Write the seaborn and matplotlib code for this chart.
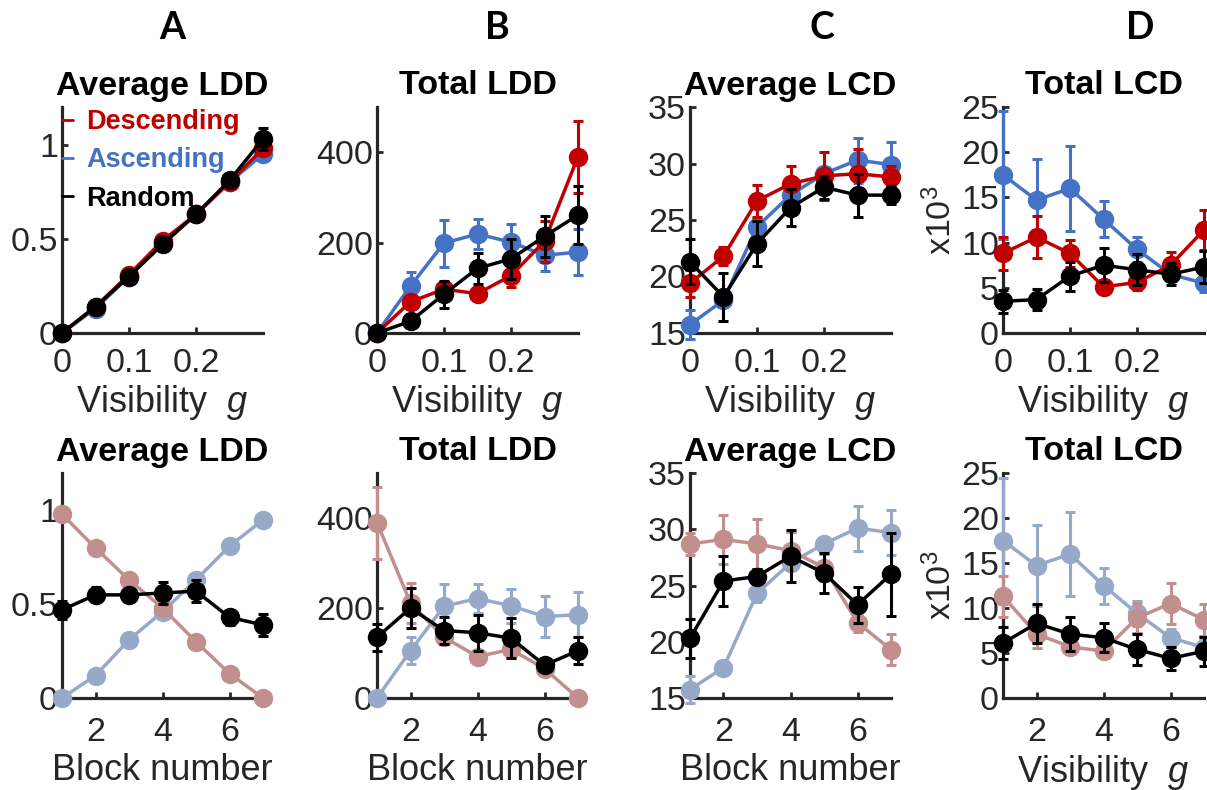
import numpy as np
import pandas as pd
import seaborn as sns
import matplotlib
matplotlib.use("Agg")
import matplotlib.pyplot as plt
from matplotlib.lines import Line2D

# ---- data ----
g_vals = [0, 0.05, 0.1, 0.15, 0.2, 0.25, 0.3]
blocks = [1, 2, 3, 4, 5, 6, 7]
groups = ["Descending", "Ascending", "Random"]

# top row: vs visibility g
avg_ldd_desc = [0, 0.14, 0.31, 0.49, 0.63, 0.80, 0.98]
avg_ldd_asc = [0, 0.13, 0.30, 0.48, 0.63, 0.80, 0.95]
avg_ldd_rand = [0, 0.14, 0.30, 0.47, 0.63, 0.81, 1.03]
avg_ldd_desc_err = [0, 0.01, 0.01, 0.01, 0.01, 0.01, 0.02]
avg_ldd_asc_err = [0, 0.01, 0.01, 0.01, 0.01, 0.01, 0.02]
avg_ldd_rand_err = [0, 0.01, 0.01, 0.01, 0.01, 0.02, 0.06]

tot_ldd_desc = [0, 69, 97, 87, 127, 203, 390]
tot_ldd_asc = [0, 104, 199, 219, 201, 172, 179]
tot_ldd_rand = [0, 26, 86, 143, 164, 214, 261]
tot_ldd_desc_err = [0, 10, 15, 15, 25, 45, 80]
tot_ldd_asc_err = [0, 30, 52, 33, 40, 34, 50]
tot_ldd_rand_err = [0, 8, 30, 35, 45, 45, 65]

avg_lcd_desc = [19.4, 21.8, 26.7, 28.2, 28.9, 29.1, 28.8]
avg_lcd_asc = [15.75, 17.9, 24.4, 27.2, 29.1, 30.3, 29.9]
avg_lcd_rand = [21.3, 18.2, 22.9, 26.1, 27.9, 27.2, 27.2]
avg_lcd_desc_err = [1.2, 0.8, 1.4, 1.6, 2.1, 2.2, 1.0]
avg_lcd_asc_err = [1.3, 0.6, 0.8, 0.8, 0.6, 2.0, 2.0]
avg_lcd_rand_err = [2.0, 2.1, 2.0, 1.6, 1.0, 1.9, 0.8]

tot_lcd_desc = [8.8, 10.6, 8.8, 5.1, 5.6, 7.5, 11.4]
tot_lcd_asc = [17.5, 14.7, 16.0, 12.6, 9.25, 6.5, 5.5]
tot_lcd_rand = [3.5, 3.7, 6.3, 7.5, 7.0, 6.5, 7.3]
tot_lcd_desc_err = [1.8, 2.3, 1.5, 0.8, 0.8, 1.5, 2.2]
tot_lcd_asc_err = [7.1, 4.5, 4.7, 2.0, 1.4, 0.8, 1.0]
tot_lcd_rand_err = [1.3, 1.2, 1.6, 1.9, 1.7, 1.2, 1.8]

# bottom row: vs block number
blk_avg_ldd_desc = [0.98, 0.80, 0.63, 0.48, 0.30, 0.13, 0]
blk_avg_ldd_asc = [0, 0.12, 0.31, 0.46, 0.63, 0.81, 0.95]
blk_avg_ldd_rand = [0.47, 0.55, 0.55, 0.56, 0.57, 0.43, 0.39]
blk_avg_ldd_desc_err = [0.02, 0.01, 0.01, 0.01, 0.01, 0.01, 0]
blk_avg_ldd_asc_err = [0, 0.01, 0.01, 0.01, 0.01, 0.01, 0.01]
blk_avg_ldd_rand_err = [0.05, 0.04, 0.03, 0.06, 0.06, 0.04, 0.06]

blk_tot_ldd_desc = [390, 211, 135, 92, 108, 65, 0]
blk_tot_ldd_asc = [0, 105, 204, 221, 205, 181, 185]
blk_tot_ldd_rand = [135, 200, 150, 145, 133, 73, 105]
blk_tot_ldd_desc_err = [80, 45, 15, 12, 20, 10, 0]
blk_tot_ldd_asc_err = [0, 30, 50, 33, 38, 45, 50]
blk_tot_ldd_rand_err = [30, 45, 30, 40, 45, 12, 30]

blk_avg_lcd_desc = [28.7, 29.1, 28.7, 28.1, 26.6, 21.7, 19.3]
blk_avg_lcd_asc = [15.75, 17.7, 24.3, 27.0, 28.7, 30.1, 29.7]
blk_avg_lcd_rand = [20.3, 25.4, 25.8, 27.6, 26.1, 23.3, 26.0]
blk_avg_lcd_desc_err = [1.0, 2.2, 2.2, 1.7, 1.2, 0.8, 1.4]
blk_avg_lcd_asc_err = [1.2, 0.5, 0.8, 0.6, 0.5, 2.0, 2.0]
blk_avg_lcd_rand_err = [1.7, 2.2, 0.7, 2.3, 1.8, 1.6, 3.7]

blk_tot_lcd_desc = [11.3, 7.1, 5.7, 5.2, 8.9, 10.5, 8.7]
blk_tot_lcd_asc = [17.5, 14.7, 16.0, 12.5, 9.4, 6.7, 5.6]
blk_tot_lcd_rand = [6.1, 8.3, 7.1, 6.7, 5.4, 4.4, 5.2]
blk_tot_lcd_desc_err = [2.3, 1.5, 0.8, 0.8, 1.7, 2.3, 1.8]
blk_tot_lcd_asc_err = [7.0, 4.5, 4.7, 2.0, 1.4, 1.0, 1.0]
blk_tot_lcd_rand_err = [1.8, 2.2, 1.9, 1.6, 1.7, 1.3, 1.6]

TOP_COLORS = {"Descending": "#C00000", "Ascending": "#4472C4", "Random": "#000000"}
BOTTOM_COLORS = {"Descending": "#C28E8E", "Ascending": "#97A9C9", "Random": "#000000"}
ZORDER = {"Ascending": 3, "Descending": 4, "Random": 5}

sns.set_style("ticks")
plt.rcParams["font.family"] = ["Liberation Sans", "DejaVu Sans"]
plt.rcParams["mathtext.fontset"] = "custom"
plt.rcParams["mathtext.it"] = "Liberation Sans:italic"
plt.rcParams["mathtext.rm"] = "Liberation Sans"

AXCOL = "#262626"
TICK_FS = 24.5
LABEL_FS = 26


def draw_panel(ax, x, vals, errs, colors, ylim, yticks, xticks, title, xlabel,
               ylabel=None, xpad=9):
    df = pd.DataFrame({
        "x": np.tile(x, 3),
        "value": np.concatenate([vals[g] for g in groups]),
        "err": np.concatenate([errs[g] for g in groups]),
        "group": np.repeat(groups, len(x)),
    })
    for g in ["Ascending", "Descending", "Random"]:
        sub = df[df["group"] == g]
        ax.errorbar(sub["x"], sub["value"], yerr=sub["err"], fmt="none",
                    ecolor=colors[g], elinewidth=2.2, capsize=3.5, capthick=2.2,
                    zorder=ZORDER[g], clip_on=False)
        sns.lineplot(data=sub, x="x", y="value", color=colors[g], marker="o",
                     markersize=14, markeredgewidth=0, linewidth=2.5,
                     zorder=ZORDER[g], clip_on=False, legend=False, ax=ax)
    ax.set_xlim(x[0], x[-1])
    ax.set_ylim(*ylim)
    ax.set_yticks(yticks)
    ax.set_xticks(xticks)
    ax.set_xticklabels([f"{t:g}" for t in xticks])
    ax.set_yticklabels([f"{t:g}" for t in yticks])
    sns.despine(ax=ax)
    for s in ["left", "bottom"]:
        ax.spines[s].set_linewidth(2.3)
        ax.spines[s].set_color(AXCOL)
        ax.spines[s].set_zorder(1)
    ax.tick_params(direction="in", length=4, width=2, colors=AXCOL,
                   labelsize=TICK_FS, labelcolor=AXCOL)
    ax.tick_params(axis="x", pad=xpad)
    ax.tick_params(axis="y", pad=3)
    ax.set_title(title, fontsize=24.5, fontweight="bold", color="black", pad=9)
    ax.set_xlabel(xlabel, fontsize=LABEL_FS, color=AXCOL, labelpad=3)
    if ylabel:
        ax.set_ylabel(ylabel, fontsize=TICK_FS, color=AXCOL, labelpad=2)
    else:
        ax.set_ylabel("")
    ax.patch.set_visible(False)


fig = plt.figure(figsize=(12.07, 7.90), dpi=100)
W, H = 1207, 790
lefts = [62, 377, 690, 1003]
aw = 201 / W
top_b, top_h = 457 / H, 226 / H
bot_b, bot_h = 92 / H, 225 / H

vis_label = "Visibility  $g$"
blk_label = "Block number"

top_specs = [
    ({"Descending": avg_ldd_desc, "Ascending": avg_ldd_asc, "Random": avg_ldd_rand},
     {"Descending": avg_ldd_desc_err, "Ascending": avg_ldd_asc_err, "Random": avg_ldd_rand_err},
     (0, 1.2), [0, 0.5, 1], "Average LDD", None),
    ({"Descending": tot_ldd_desc, "Ascending": tot_ldd_asc, "Random": tot_ldd_rand},
     {"Descending": tot_ldd_desc_err, "Ascending": tot_ldd_asc_err, "Random": tot_ldd_rand_err},
     (0, 500), [0, 200, 400], "Total LDD", None),
    ({"Descending": avg_lcd_desc, "Ascending": avg_lcd_asc, "Random": avg_lcd_rand},
     {"Descending": avg_lcd_desc_err, "Ascending": avg_lcd_asc_err, "Random": avg_lcd_rand_err},
     (15, 35), [15, 20, 25, 30, 35], "Average LCD", None),
    ({"Descending": tot_lcd_desc, "Ascending": tot_lcd_asc, "Random": tot_lcd_rand},
     {"Descending": tot_lcd_desc_err, "Ascending": tot_lcd_asc_err, "Random": tot_lcd_rand_err},
     (0, 25), [0, 5, 10, 15, 20, 25], "Total LCD", "x10$^3$"),
]
bottom_specs = [
    ({"Descending": blk_avg_ldd_desc, "Ascending": blk_avg_ldd_asc, "Random": blk_avg_ldd_rand},
     {"Descending": blk_avg_ldd_desc_err, "Ascending": blk_avg_ldd_asc_err, "Random": blk_avg_ldd_rand_err},
     (0, 1.2), [0, 0.5, 1], "Average LDD", None, blk_label),
    ({"Descending": blk_tot_ldd_desc, "Ascending": blk_tot_ldd_asc, "Random": blk_tot_ldd_rand},
     {"Descending": blk_tot_ldd_desc_err, "Ascending": blk_tot_ldd_asc_err, "Random": blk_tot_ldd_rand_err},
     (0, 500), [0, 200, 400], "Total LDD", None, blk_label),
    ({"Descending": blk_avg_lcd_desc, "Ascending": blk_avg_lcd_asc, "Random": blk_avg_lcd_rand},
     {"Descending": blk_avg_lcd_desc_err, "Ascending": blk_avg_lcd_asc_err, "Random": blk_avg_lcd_rand_err},
     (15, 35), [15, 20, 25, 30, 35], "Average LCD", None, blk_label),
    ({"Descending": blk_tot_lcd_desc, "Ascending": blk_tot_lcd_asc, "Random": blk_tot_lcd_rand},
     {"Descending": blk_tot_lcd_desc_err, "Ascending": blk_tot_lcd_asc_err, "Random": blk_tot_lcd_rand_err},
     (0, 25), [0, 5, 10, 15, 20, 25], "Total LCD", "x10$^3$", vis_label),
]

top_axes = []
for left, (vals, errs, ylim, yt, title, ylab) in zip(lefts, top_specs):
    ax = fig.add_axes([left / W, top_b, aw, top_h])
    draw_panel(ax, g_vals, vals, errs, TOP_COLORS, ylim, yt, [0, 0.1, 0.2],
               title, vis_label, ylab, xpad=11)
    top_axes.append(ax)

for left, (vals, errs, ylim, yt, title, ylab, xlab) in zip(lefts, bottom_specs):
    ax = fig.add_axes([left / W, bot_b, aw, bot_h])
    draw_panel(ax, blocks, vals, errs, BOTTOM_COLORS, ylim, yt, [2, 4, 6],
               title, xlab, ylab, xpad=14)

# legend in panel A (top)
handles = [Line2D([], [], color=TOP_COLORS[g], lw=2) for g in groups]
leg = top_axes[0].legend(handles, groups, loc="upper left", bbox_to_anchor=(0.0, 0.99),
                         frameon=False, handlelength=0.4, handletextpad=0.5,
                         borderaxespad=0, borderpad=0, labelspacing=0.45,
                         labelcolor="linecolor", prop={"weight": "bold", "size": 19.5})

# column letters
for xpos, letter in zip([172, 497, 822, 1140], "ABCD"):
    fig.text(xpos / W, 1 - 28 / H, letter, ha="center", va="center",
             fontsize=27, fontweight="bold", color="black",
             family=["Lato", "DejaVu Sans"])

fig.savefig("out.png", dpi=100)
